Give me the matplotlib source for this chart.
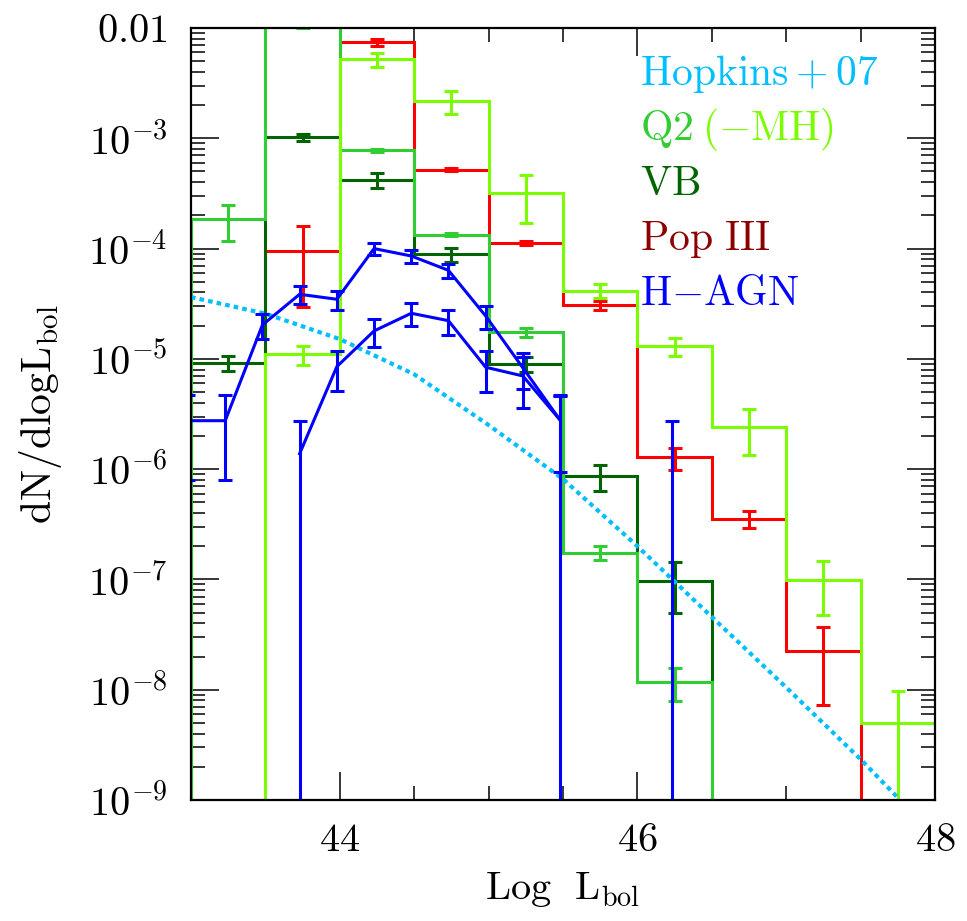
import numpy as np
import matplotlib
matplotlib.use('Agg')
import matplotlib.pyplot as plt
from matplotlib.ticker import FixedLocator, FuncFormatter, MultipleLocator, NullFormatter

plt.rcParams['mathtext.fontset'] = 'cm'
plt.rcParams['font.family'] = ['DejaVu Serif']

# ---------------- data ----------------
bin_edges = [43.0, 43.5, 44.0, 44.5, 45.0, 45.5, 46.0, 46.5, 47.0, 47.5, 48.0]

# Q2 (limegreen)
q2_vals = [1.84e-4, 1.15e-2, 7.78e-4, 1.34e-4, 1.74e-5, 1.75e-7, 1.18e-8, 0, 0, 0]
q2_errs = [6.6e-5, 1.6e-3, 2.4e-5, 4.0e-6, 1.7e-6, 2.4e-8, 3.9e-9, 0, 0, 0]

# Q2 (-MH) (lawngreen)
q2mh_vals = [0, 1.10e-5, 5.2e-3, 2.18e-3, 3.2e-4, 4.13e-5, 1.30e-5, 2.43e-6, 9.8e-8, 5.0e-9]
q2mh_errs = [0, 2.2e-6, 7.5e-4, 5.2e-4, 1.48e-4, 6.0e-6, 2.4e-6, 1.1e-6, 5.0e-8, 4.8e-9]

# VB (darkgreen)
vb_vals = [9.12e-6, 1.02e-3, 4.19e-4, 8.87e-5, 8.93e-6, 8.63e-7, 9.64e-8, 0, 0, 0]
vb_errs = [1.4e-6, 8.0e-5, 6.4e-5, 1.3e-5, 1.4e-6, 2.3e-7, 4.7e-8, 0, 0, 0]

# Pop III (red)
pop3_vals = [0, 9.44e-5, 7.42e-3, 5.2e-4, 1.12e-4, 3.06e-5, 1.28e-6, 3.53e-7, 2.23e-8, 0]
pop3_errs = [0, 6.5e-5, 5.5e-4, 1.5e-5, 4.5e-6, 3.0e-6, 2.9e-7, 6.1e-8, 1.5e-8, 0]

# H-AGN (blue), two curves
hagn1_x = [42.98, 43.23, 43.48, 43.73, 43.98, 44.23, 44.48, 44.73, 44.98, 45.23, 45.48]
hagn1_y = [2.75e-6, 2.75e-6, 2.03e-5, 3.85e-5, 3.47e-5, 1.00e-4, 8.57e-5, 6.35e-5, 2.45e-5, 8.3e-6, 2.79e-6]
hagn1_err = [1.95e-6, 1.95e-6, 5.2e-6, 7.2e-6, 6.9e-6, 1.17e-5, 1.1e-5, 9.0e-6, 5.8e-6, 3.0e-6, 1.85e-6]

hagn2_x = [43.73, 43.98, 44.23, 44.48, 44.73, 44.98, 45.23, 45.48, 45.73, 45.98, 46.23]
hagn2_y = [1.38e-6, 8.5e-6, 1.79e-5, 2.59e-5, 2.22e-5, 8.4e-6, 7.0e-6, 2.79e-6, 0, 0, 1.36e-6]
hagn2_err_lo = [1.38e-6, 3.4e-6, 5.0e-6, 6.2e-6, 5.6e-6, 3.4e-6, 3.4e-6, 2.79e-6, 0, 0, 1.36e-6]
hagn2_err_hi = [1.37e-6, 3.4e-6, 5.0e-6, 6.2e-6, 5.6e-6, 3.4e-6, 3.4e-6, 1.9e-6, 0, 0, 1.36e-6]

# Hopkins+07
hop_x = [43.0, 43.5, 44.0, 44.5, 45.0, 45.5, 46.0, 46.5, 47.0, 47.5, 47.75]
hop_y = [3.63e-5, 2.57e-5, 1.51e-5, 7.24e-6, 2.51e-6, 8.13e-7, 2.0e-7, 4.57e-8, 1.05e-8, 2.34e-9, 1.05e-9]

x_major_ticks = [44, 46, 48]
y_major_ticks = [1e-9, 1e-8, 1e-7, 1e-6, 1e-5, 1e-4, 1e-3, 1e-2]

# ---------------- style ----------------
C_Q2 = '#32CD32'
C_Q2MH = '#7CFC00'
C_VB = '#006400'
C_POP3 = '#FF0000'
C_POP3_TXT = '#8B0000'
C_HAGN = '#0000FF'
C_HOP = '#00BFFF'
LW = 2.2
CAP = 5.2
FLOOR = 1e-14

W, H = 967, 921
fig = plt.figure(figsize=(W / 100, H / 100), dpi=100)
ax = fig.add_axes([191 / W, 1 - 800 / H, (935 - 191) / W, (800 - 28) / H])
ax.set_yscale('log')
ax.set_xlim(43, 48)
ax.set_ylim(1e-9, 1e-2)

edges = np.asarray(bin_edges, float)
centers = 0.5 * (edges[:-1] + edges[1:])


def lower_err(y, lo):
    return np.clip(np.minimum(lo, y - FLOOR), 0, None)


def hist(vals, errs, color, z):
    v = np.asarray(vals, float)
    e = np.asarray(errs, float)
    ax.stairs(np.where(v > 0, v, FLOOR), edges, baseline=FLOOR, color=color, lw=LW, zorder=z)
    m = v > 0
    ax.errorbar(centers[m], v[m], yerr=[lower_err(v[m], e[m]), e[m]], fmt='none', ecolor=color,
                elinewidth=LW, capsize=CAP, capthick=LW, zorder=z)


hist(pop3_vals, pop3_errs, C_POP3, 2)
hist(vb_vals, vb_errs, C_VB, 3)
hist(q2_vals, q2_errs, C_Q2, 4)
hist(q2mh_vals, q2mh_errs, C_Q2MH, 5)

ax.plot(hop_x, hop_y, color=C_HOP, lw=3.0, dashes=(1.1, 1.0), zorder=6)

# H-AGN curves
y1 = np.asarray(hagn1_y, float)
e1 = np.asarray(hagn1_err, float)
ax.errorbar(hagn1_x, y1, yerr=[lower_err(y1, e1), e1], color=C_HAGN, lw=LW,
            elinewidth=LW, capsize=CAP, capthick=LW, zorder=7)

y2 = np.asarray(hagn2_y, float)
lo2 = np.asarray(hagn2_err_lo, float)
hi2 = np.asarray(hagn2_err_hi, float)
m2 = y2 > 0
y2p = np.where(m2, y2, np.nan)
ax.errorbar(hagn2_x, y2p, yerr=[np.where(m2, lower_err(y2, lo2), np.nan), np.where(m2, hi2, np.nan)],
            color=C_HAGN, lw=LW, elinewidth=LW, capsize=CAP, capthick=LW, zorder=7)

# ---------------- axes ----------------
for s in ax.spines.values():
    s.set_linewidth(1.6)
    s.set_zorder(10)

ax.xaxis.set_major_locator(FixedLocator(x_major_ticks))
ax.xaxis.set_minor_locator(MultipleLocator(0.5))
ax.xaxis.set_minor_formatter(NullFormatter())
ax.xaxis.set_major_formatter(FuncFormatter(lambda v, p: r'$%d$' % round(v)))

ymaj = np.asarray(y_major_ticks, float)
ymin = np.array([d * k for d in ymaj[:-1] for k in range(2, 10)])
ax.yaxis.set_major_locator(FixedLocator(ymaj))
ax.yaxis.set_minor_locator(FixedLocator(ymin))
ax.yaxis.set_minor_formatter(NullFormatter())


def yfmt(v, p):
    e = int(round(np.log10(v)))
    if e == -2:
        return r'$0.01$'
    return r'$10^{%d}$' % e


ax.yaxis.set_major_formatter(FuncFormatter(yfmt))
ax.tick_params(which='both', direction='in', top=True, right=True, width=1.1, colors='black')
ax.tick_params(which='major', length=20, labelsize=29)
ax.tick_params(which='minor', length=10)
ax.tick_params(axis='x', which='major', pad=16)
ax.tick_params(axis='y', which='major', pad=17)

ax.set_xlabel(r'$\mathrm{Log\ \ L_{bol}}$', fontsize=29, labelpad=8)
ax.set_ylabel(r'$\mathrm{dN/dlogL_{bol}}$', fontsize=30, labelpad=17)

# ---------------- legend text ----------------
lx = 640 / W
fs = 30
fig.text(lx, 1 - 85 / H, r'$\mathrm{Hopkins+07}$', color=C_HOP, fontsize=fs, va='baseline')
fig.text(lx, 1 - 140 / H, r'$\mathrm{Q2}$', color=C_Q2, fontsize=fs, va='baseline')
fig.text(702 / W, 1 - 140 / H, r'$\mathrm{(-MH)}$', color=C_Q2MH, fontsize=fs, va='baseline')
fig.text(lx, 1 - 195 / H, r'$\mathrm{VB}$', color=C_VB, fontsize=fs, va='baseline')
fig.text(lx, 1 - 250 / H, r'$\mathrm{Pop\ III}$', color=C_POP3_TXT, fontsize=fs, va='baseline')
fig.text(lx, 1 - 305 / H, r'$\mathrm{H{-}AGN}$', color=C_HAGN, fontsize=fs, va='baseline')

fig.savefig('out.png', dpi=100)
